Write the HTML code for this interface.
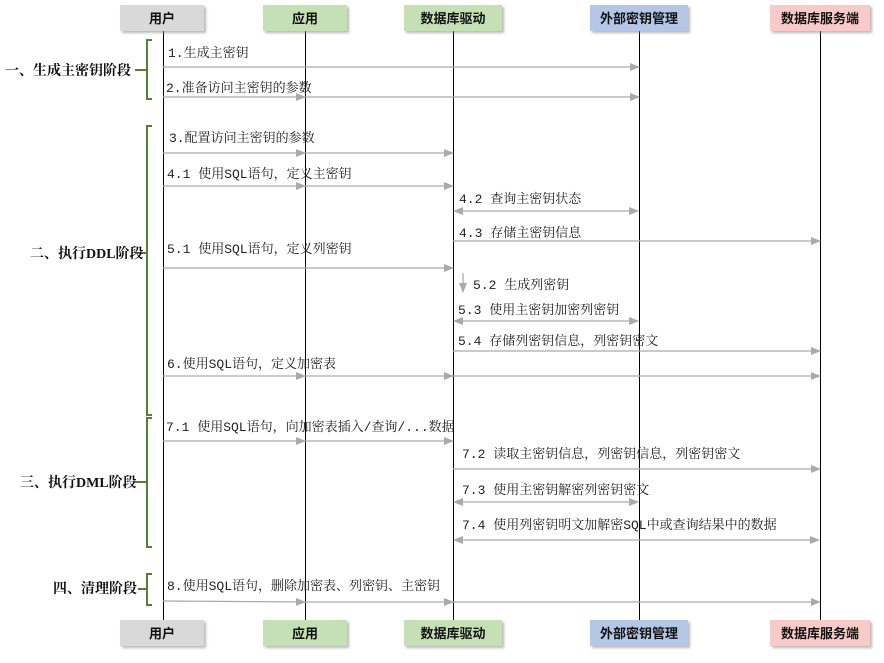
<!DOCTYPE html>
<html><head><meta charset="utf-8"><style>
body{margin:0;background:#fff}
svg text{font-family:"Liberation Mono","Noto Serif CJK SC",serif;font-size:13px;fill:#222}
.h{font-family:"Liberation Sans","Noto Sans CJK SC",sans-serif;font-weight:bold;font-size:13px;fill:#111}
.ph{font-family:"Liberation Serif","Noto Serif CJK SC",serif;font-weight:bold;font-size:14px;fill:#111}
</style></head><body>
<svg width="884" height="658" xmlns="http://www.w3.org/2000/svg">
<defs>
<marker id="a" markerWidth="10" markerHeight="8" refX="9" refY="4" orient="auto" markerUnits="userSpaceOnUse"><path d="M0,0 L10,4 L0,8z" fill="#aaa"/></marker>
<marker id="b" markerWidth="10" markerHeight="8" refX="1" refY="4" orient="auto" markerUnits="userSpaceOnUse"><path d="M10,0 L0,4 L10,8z" fill="#aaa"/></marker>
<filter id="s"><feDropShadow dx="2" dy="2" stdDeviation="1.2" flood-color="#888" flood-opacity="0.6"/></filter>
</defs>
<g stroke="#000" stroke-width="1">
<line x1="163.5" y1="31" x2="163.5" y2="621"/><line x1="305.5" y1="31" x2="305.5" y2="621"/><line x1="453.5" y1="31" x2="453.5" y2="621"/><line x1="639.5" y1="31" x2="639.5" y2="621"/><line x1="820.5" y1="31" x2="820.5" y2="621"/>
</g>
<g filter="url(#s)">
<rect x="120" y="5" width="84" height="26" fill="#d9d9d9"/><rect x="263" y="5" width="84" height="26" fill="#c5e0b4"/><rect x="404" y="5" width="98" height="26" fill="#c5e0b4"/><rect x="590" y="5" width="98" height="26" fill="#b4c7e7"/><rect x="770" y="5" width="100" height="26" fill="#f8cbc8"/>
<rect x="120" y="620" width="84" height="26" fill="#d9d9d9"/><rect x="263" y="620" width="84" height="26" fill="#c5e0b4"/><rect x="404" y="620" width="98" height="26" fill="#c5e0b4"/><rect x="590" y="620" width="98" height="26" fill="#b4c7e7"/><rect x="770" y="620" width="100" height="26" fill="#f8cbc8"/>
</g>
<g class="h" text-anchor="middle">
<text class="h" x="162" y="23">用户</text><text class="h" x="305" y="23">应用</text><text class="h" x="453" y="23">数据库驱动</text><text class="h" x="639" y="23">外部密钥管理</text><text class="h" x="820" y="23">数据库服务端</text>
<text class="h" x="162" y="638">用户</text><text class="h" x="305" y="638">应用</text><text class="h" x="453" y="638">数据库驱动</text><text class="h" x="639" y="638">外部密钥管理</text><text class="h" x="820" y="638">数据库服务端</text>
</g>
<g stroke="#538135" stroke-width="2" fill="none">
<path d="M152,40 H147 V99 H152 M147,70 H135"/>
<path d="M152,126 H147 V415 H152 M147,253 H135"/>
<path d="M152,418 H147 V547 H152 M147,482 H135"/>
<path d="M152,574 H147 V605 H152 M147,589 H138"/>
</g>
<text class="ph" x="5" y="75">一、生成主密钥阶段</text>
<text class="ph" x="30" y="258">二、执行DDL阶段</text>
<text class="ph" x="20" y="487">三、执行DML阶段</text>
<text class="ph" x="53" y="593">四、清理阶段</text>
<g stroke="#aaa" stroke-width="1.3">
<line x1="163" y1="67" x2="639" y2="67" marker-end="url(#a)"/>
<line x1="163" y1="97" x2="305" y2="97" marker-end="url(#a)"/><line x1="305" y1="97" x2="639" y2="97" marker-end="url(#a)"/>
<line x1="163" y1="153" x2="305" y2="153" marker-end="url(#a)"/><line x1="305" y1="153" x2="453" y2="153" marker-end="url(#a)"/>
<line x1="163" y1="186" x2="305" y2="186" marker-end="url(#a)"/><line x1="305" y1="186" x2="453" y2="186" marker-end="url(#a)"/>
<line x1="454" y1="211" x2="638" y2="211" marker-end="url(#a)" marker-start="url(#b)"/>
<line x1="453" y1="241" x2="820" y2="241" marker-end="url(#a)"/>
<line x1="163" y1="268" x2="453" y2="268" marker-end="url(#a)"/>
<line x1="463" y1="273" x2="463" y2="292" marker-end="url(#a)"/>
<line x1="454" y1="321" x2="638" y2="321" marker-end="url(#a)" marker-start="url(#b)"/>
<line x1="453" y1="351" x2="820" y2="351" marker-end="url(#a)"/>
<line x1="163" y1="376" x2="305" y2="376" marker-end="url(#a)"/><line x1="305" y1="376" x2="453" y2="376" marker-end="url(#a)"/><line x1="453" y1="376" x2="820" y2="376" marker-end="url(#a)"/>
<line x1="163" y1="441" x2="305" y2="441" marker-end="url(#a)"/><line x1="305" y1="441" x2="453" y2="441" marker-end="url(#a)"/>
<line x1="453" y1="469" x2="820" y2="469" marker-end="url(#a)"/>
<line x1="454" y1="502" x2="638" y2="502" marker-end="url(#a)" marker-start="url(#b)"/>
<line x1="454" y1="540" x2="819" y2="540" marker-end="url(#a)" marker-start="url(#b)"/>
<line x1="163" y1="601" x2="305" y2="602" marker-end="url(#a)"/><line x1="305" y1="602" x2="453" y2="602" marker-end="url(#a)"/><line x1="453" y1="602" x2="820" y2="602" marker-end="url(#a)"/>
</g>
<text x="168" y="57">1.生成主密钥</text>
<text x="166" y="92">2.准备访问主密钥的参数</text>
<text x="169" y="142">3.配置访问主密钥的参数</text>
<text x="167" y="178">4.1 使用SQL语句，定义主密钥</text>
<text x="459" y="203">4.2 查询主密钥状态</text>
<text x="459" y="237">4.3 存储主密钥信息</text>
<text x="167" y="253">5.1 使用SQL语句，定义列密钥</text>
<text x="473" y="289">5.2 生成列密钥</text>
<text x="458" y="314">5.3 使用主密钥加密列密钥</text>
<text x="458" y="345">5.4 存储列密钥信息，列密钥密文</text>
<text x="167" y="368">6.使用SQL语句，定义加密表</text>
<text x="166" y="431">7.1 使用SQL语句，向加密表插入/查询/...数据</text>
<text x="462" y="458">7.2 读取主密钥信息，列密钥信息，列密钥密文</text>
<text x="462" y="494">7.3 使用主密钥解密列密钥密文</text>
<text x="462" y="529">7.4 使用列密钥明文加解密SQL中或查询结果中的数据</text>
<text x="167" y="590">8.使用SQL语句，删除加密表、列密钥、主密钥</text>
</svg>
</body></html>
